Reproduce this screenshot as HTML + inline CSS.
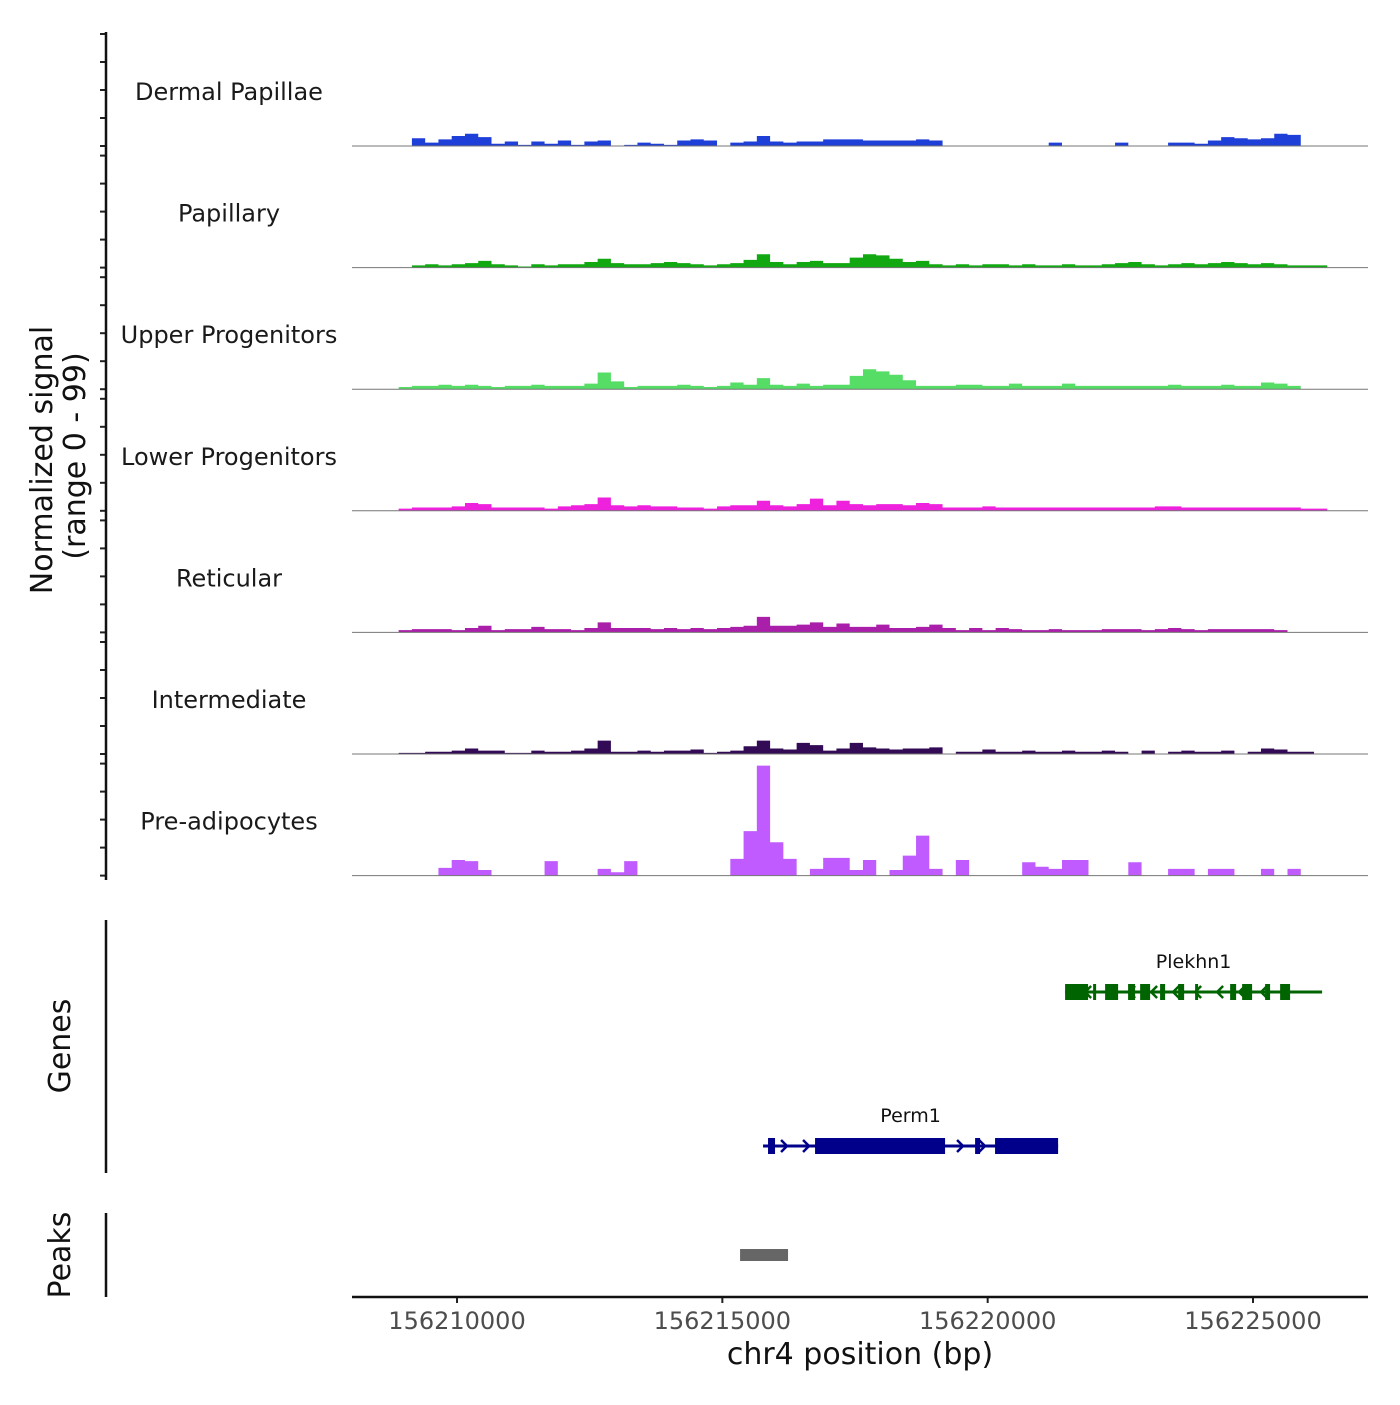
<!DOCTYPE html>
<html><head><meta charset="utf-8"><style>
body{margin:0;background:#fff;}
svg text{font-family:"DejaVu Sans","Liberation Sans",sans-serif;}
</style></head><body>
<svg id="chart" width="1400" height="1400" xmlns="http://www.w3.org/2000/svg">
<g id="tracks"></g>
<g id="genes"></g>
<g id="peaks"></g>
<g id="axes"></g>
</svg>
<script>
const trackNames = ["Dermal Papillae","Papillary","Upper Progenitors","Lower Progenitors","Reticular","Intermediate","Pre-adipocytes"];
const trackColors = ["#1f3fd9","#11a811","#55dd66","#ee22dd","#aa1faa","#330a55","#c05cff"];
const binStart = 156208900;
const binSize = 250;
const dermalPapillae = [0,7,3,6,9,11,8,2,4,1,4,2,5,1,4,5,0,1,3,2,1,5,6,5,0,3,4,9,4,3,4,4,6,6,6,5,5,5,5,6,5,0,0,0,0,0,0,0,0,3,0,0,0,0,3,0,0,0,3,3,2,5,8,7,6,7,11,10,0,0];
const papillary = [0,2,3,2,3,4,6,3,2,1,3,2,3,3,5,8,4,3,3,4,5,4,3,2,3,4,7,12,5,3,5,6,4,4,9,12,11,8,5,6,3,2,3,2,3,3,2,3,2,2,3,2,2,3,4,5,3,2,3,4,3,4,5,4,3,4,3,2,2,2];
const upperProgenitors = [2,3,3,4,3,4,3,2,3,3,4,3,3,3,5,15,7,2,3,3,3,4,3,2,3,6,4,10,4,3,5,3,4,4,12,18,16,13,8,3,3,3,4,4,3,3,5,3,3,3,5,3,3,3,3,3,3,3,4,3,3,3,4,3,3,6,5,3,0,0];
const lowerProgenitors = [2,3,3,3,4,7,6,3,3,3,3,2,4,5,6,12,5,4,5,4,4,3,3,2,4,5,5,9,5,4,6,11,5,9,6,5,6,6,5,7,6,3,3,3,4,3,3,3,3,3,3,3,3,3,3,3,3,4,4,3,3,3,3,3,3,3,3,3,2,2];
const reticular = [2,3,3,3,2,4,6,2,3,3,5,3,3,2,4,9,4,4,4,3,4,3,4,3,4,5,6,14,6,6,7,9,5,8,5,5,7,4,4,5,7,4,2,4,2,4,3,2,2,3,2,2,2,3,3,3,2,3,4,3,2,3,3,3,3,3,2,0,0,0];
const intermediate = [1,1,2,2,3,5,3,3,1,1,3,2,2,3,5,12,2,2,3,2,3,3,4,1,2,3,7,12,5,4,10,8,3,5,10,6,5,4,5,5,6,0,2,2,4,2,2,3,2,2,3,2,2,3,2,0,3,0,2,3,2,2,3,0,2,5,4,2,2,0];
const preAdipocytes = [0,0,0,7,14,13,5,0,0,0,0,13,0,0,0,6,3,13,0,0,0,0,0,0,0,15,40,99,30,15,0,6,16,16,5,14,0,5,18,36,6,0,14,0,0,0,0,12,8,6,14,14,0,0,0,12,0,0,6,6,0,6,6,0,0,6,0,6,0,0];
const trackData = [dermalPapillae,papillary,upperProgenitors,lowerProgenitors,reticular,intermediate,preAdipocytes];
const xTicks = [156210000,156215000,156220000,156225000];
const genes = ["Plekhn1","Perm1"];
const geneStarts = [156221459,156215767];
const geneEnds = [156226302,156221327];
const geneStrands = [-1,1];
const geneColors = ["#006400","#00008b"];
const plekhn1ExonStarts = [156221459,156221987,156222213,156222646,156222873,156223249,156223589,156223909,156224569,156224795,156225228,156225511];
const plekhn1ExonEnds = [156221892,156222043,156222458,156222778,156223061,156223344,156223702,156223965,156224682,156224983,156225322,156225699];
const perm1ExonStarts = [156215861,156216747,156219763,156220139];
const perm1ExonEnds = [156215993,156219197,156219857,156221327];
const peakStarts = [156215334];
const peakEnds = [156216238];

const NS="http://www.w3.org/2000/svg";
const X0=352,X1=1368,BP0=156208021,BP1=156227167;
const xs=bp=>X0+(bp-BP0)/(BP1-BP0)*(X1-X0);
const trackTop=34, trackStep=121.6, trackH=112;
const ys=(t,v)=>trackTop+t*trackStep+trackH - v/99*110;
function mk(tag,attrs,parent,text){const e=document.createElementNS(NS,tag);for(const k in attrs)e.setAttribute(k,attrs[k]);if(text!==undefined)e.textContent=text;parent.appendChild(e);return e;}
const gT=document.getElementById('tracks'),gG=document.getElementById('genes'),gP=document.getElementById('peaks'),gA=document.getElementById('axes');

trackData.forEach((arr,t)=>{
  const base=ys(t,0);
  let d=`M${xs(binStart)},${base}`;
  arr.forEach((v,i)=>{const a=xs(binStart+i*binSize),b=xs(binStart+(i+1)*binSize);d+=` L${a},${ys(t,v)} L${b},${ys(t,v)}`;});
  d+=` L${xs(binStart+arr.length*binSize)},${base} Z`;
  const p=mk('path',{d:d,fill:trackColors[t]},gT);
  
  
  const bl=mk('line',{x1:X0,x2:X1,y1:base,y2:base,stroke:'#777','stroke-width':1},gT);
  
  
  const lb=mk('text',{x:229,y:trackTop+t*trackStep+66,'text-anchor':'middle','font-size':24,fill:'#1a1a1a'},gT,trackNames[t]);
  
  
  for(let k=0;k<5;k++){const y=trackTop+t*trackStep+k*28;const tk=mk('line',{x1:100,x2:106,y1:y,y2:y,stroke:'#222','stroke-width':2},gA);
    
    }
});
const yl=mk('line',{x1:106,x2:106,y1:32,y2:880,stroke:'#111','stroke-width':2.5},gA);



const exS=[plekhn1ExonStarts,perm1ExonStarts],exE=[plekhn1ExonEnds,perm1ExonEnds],gy=[992,1146];
genes.forEach((g,i)=>{
  const c=geneColors[i],y=gy[i];
  const ln=mk('line',{x1:xs(geneStarts[i]),x2:xs(geneEnds[i]),y1:y,y2:y,stroke:c,'stroke-width':3},gG);
  
  
  exS[i].forEach((s,j)=>{const r=mk('rect',{x:xs(s),y:y-8,width:Math.max(3,xs(exE[i][j])-xs(s)),height:16,fill:c},gG);
    
    });
  const n=Math.floor((xs(geneEnds[i])-xs(geneStarts[i]))/22);
  for(let k=1;k<n;k++){const x=xs(geneStarts[i])+k*22;const dd=geneStrands[i]>0?`M${x-4},${y-6} L${x+2},${y} L${x-4},${y+6}`:`M${x+4},${y-6} L${x-2},${y} L${x+4},${y+6}`;
    const ar=mk('path',{d:dd,stroke:c,'stroke-width':2.5,fill:'none'},gG);
    
    }
  const tx=mk('text',{x:(xs(geneStarts[i])+xs(geneEnds[i]))/2,y:y-24,'text-anchor':'middle','font-size':19,fill:'#111'},gG,g);
  
  
});
peakStarts.forEach((s,i)=>{const r=mk('rect',{x:xs(s),y:1249,width:xs(peakEnds[i])-xs(s),height:12,fill:'#666'},gP);
  
  });

xTicks.forEach(v=>{const x=xs(v);
  const tk=mk('line',{x1:x,x2:x,y1:1297,y2:1303,stroke:'#222','stroke-width':2},gA);
  
  
  const tl=mk('text',{x:x,y:1329,'text-anchor':'middle','font-size':24,fill:'#4d4d4d'},gA,String(v));
  
  });
</script>
<svg style="position:absolute;left:0;top:0" width="1400" height="1400">
<line x1="352" x2="1368" y1="1297" y2="1297" stroke="#111" stroke-width="2.5"/>
<text x="860" y="1364" text-anchor="middle" font-size="30" fill="#111">chr4 position (bp)</text>
<text transform="translate(52,460) rotate(-90)" text-anchor="middle" font-size="30" fill="#111">Normalized signal</text>
<text transform="translate(85,456) rotate(-90)" text-anchor="middle" font-size="30" fill="#111">(range 0 - 99)</text>
<line x1="106" x2="106" y1="920" y2="1173" stroke="#111" stroke-width="2.5"/>
<text transform="translate(70,1046) rotate(-90)" text-anchor="middle" font-size="30" fill="#111">Genes</text>
<line x1="106" x2="106" y1="1213" y2="1297" stroke="#111" stroke-width="2.5"/>
<text transform="translate(70,1255) rotate(-90)" text-anchor="middle" font-size="30" fill="#111">Peaks</text>
</svg>
</body></html>
